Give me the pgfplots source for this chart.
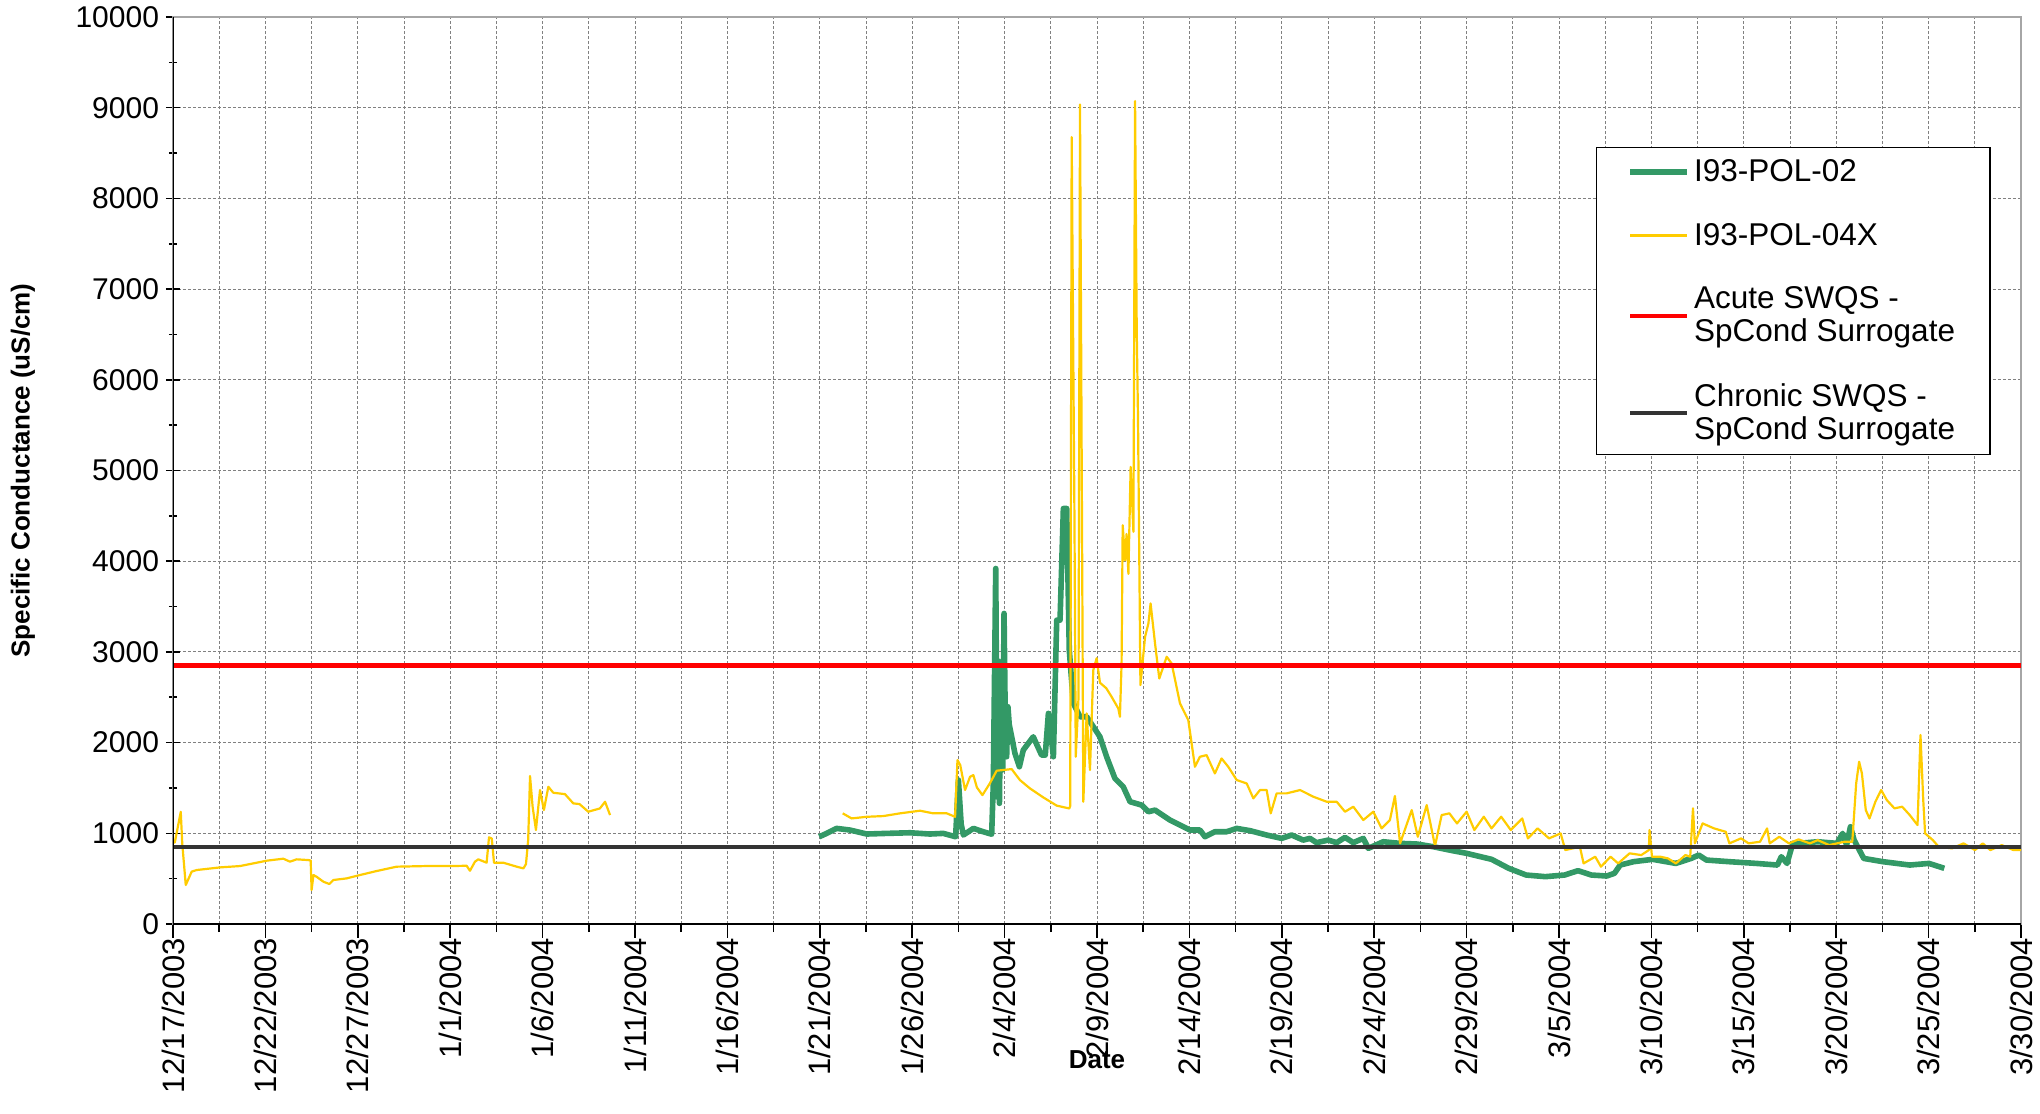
\documentclass[border=0pt]{standalone}
\usepackage{pgfplots}
\pgfplotsset{compat=1.18}
\usepackage{fontspec}
\setmainfont{Liberation Sans}

\definecolor{polgreen}{HTML}{339966}
\definecolor{polyellow}{HTML}{FFCC00}
\definecolor{chronicgray}{HTML}{333333}

\begin{document}
\begin{tikzpicture}
\begin{axis}[
    scale only axis,
    width=924bp, height=453.5bp,
    xmin=0, xmax=100, ymin=0, ymax=10000,
    xtick={0,5,...,100},
    xticklabels={12/17/2003,12/22/2003,12/27/2003,1/1/2004,1/6/2004,1/11/2004,1/16/2004,1/21/2004,1/26/2004,2/4/2004,2/9/2004,2/14/2004,2/19/2004,2/24/2004,2/29/2004,3/5/2004,3/10/2004,3/15/2004,3/20/2004,3/25/2004,3/30/2004},
    minor x tick num=1,
    ytick={0,1000,...,10000},
    minor y tick num=1,
    xtick pos=bottom, ytick pos=left,
    xtick align=outside, ytick align=center,
    major tick length=7bp, minor tick length=4bp,
    tick style={black, line width=0.8bp},
    xticklabel style={rotate=90, anchor=east, font=\fontsize{15.5bp}{18bp}\selectfont},
    xticklabel shift=-3.5bp,
    yticklabel style={font=\fontsize{15bp}{18bp}\selectfont},
    /pgf/number format/assume math mode=true,
    /pgf/number format/set thousands separator={},
    scaled y ticks=false,
    xmajorgrids, xminorgrids, ymajorgrids,
    major grid style={black!50, dash pattern=on 1.5bp off 1bp, line width=0.5bp},
    minor grid style={black!50, dash pattern=on 1.5bp off 1bp, line width=0.5bp},
    axis line style={draw=gray!70, line width=1bp},
    xlabel={\textbf{Date}},
    xlabel style={at={(axis description cs:0.5,0)}, anchor=center, yshift=-68bp, font=\fontsize{13bp}{15bp}\selectfont},
    ylabel={\textbf{Specific Conductance (uS/cm)}},
    ylabel style={at={(axis description cs:-0.0812,0.5)}, anchor=center, font=\fontsize{13bp}{15bp}\selectfont},
    unbounded coords=jump,
    legend cell align=left,
    legend image code/.code={\draw[#1] (0bp,0bp) -- (28.5bp,0bp);},
    legend style={at={(rel axis cs:0.770,0.857)}, anchor=north west,
        draw=black, line width=0.6bp, fill=white,
        font=\fontsize{15.75bp}{16.5bp}\selectfont,
        inner xsep=15.5bp, inner ysep=4bp, row sep=15.4bp,
        cells={align=left}},
]

% I93-POL-02
\addplot[polgreen, line width=2.8bp, line join=round] coordinates {
(34.97,962) (35.37,999) (35.91,1054) (36.63,1036) (37.54,992) (38.62,999)
(39.88,1006) (40.96,992) (41.68,999) (42.35,962) (42.5,1587) (42.65,1100)
(42.77,981) (43.31,1054) (43.85,1017) (44.3,990) (44.39,1550) (44.52,3920)
(44.6,1400) (44.66,2900) (44.72,1330) (44.79,2652) (44.9,1700) (44.97,3424)
(45.05,2000) (45.11,1844) (45.18,2395) (45.25,2200) (45.56,1881) (45.8,1734)
(46.01,1917) (46.55,2064) (47.0,1862) (47.2,1862) (47.37,2322) (47.5,2100)
(47.64,1844) (47.82,3350) (48.0,3350) (48.18,4581) (48.36,4581) (48.5,3019)
(48.72,2432) (49.08,2285) (49.44,2285) (49.8,2175) (50.16,2064) (50.52,1844)
(50.97,1605) (51.42,1513) (51.79,1348) (52.42,1311) (52.78,1238) (53.14,1256)
(53.95,1146) (54.67,1072) (55.03,1036) (55.57,1036) (55.84,962) (56.38,1017)
(57.01,1017) (57.56,1054) (58.28,1029) (59.18,981) (59.99,944) (60.53,981)
(61.16,925) (61.52,944) (61.88,897) (62.51,925) (62.97,897) (63.42,955)
(63.87,897) (64.41,944) (64.68,834) (65.49,907) (66.39,889) (67.3,882)
(68.2,852) (69.07,815) (70.0,779) (71.35,713) (72.28,614) (73.22,540)
(74.26,522) (75.3,540) (76.03,588) (76.75,540) (77.58,529) (78.0,559)
(78.31,650) (79.03,687) (80.07,713) (81.32,668) (82.15,723) (82.56,760)
(82.98,705) (84.22,687) (85.68,668) (86.82,650) (87.03,742) (87.34,668)
(87.65,889) (87.96,889) (89.0,907) (90.04,889) (90.35,999) (90.56,870)
(90.77,1072) (90.97,925) (91.49,723) (92.53,687) (93.98,650) (95.02,668)
(95.85,614)
};
\addlegendentry{I93-POL-02}

% I93-POL-04X
\addplot[polyellow, line width=1.1bp, line join=round] coordinates {
(0,896) (0.1,900) (0.42,1237) (0.5,890) (0.69,430) (1.01,577) (1.28,595)
(2.54,624) (3.63,639) (5.07,698) (5.97,720) (6.33,687) (6.69,713) (7.32,705)
(7.45,700) (7.5,375) (7.6,540) (7.77,521) (8.14,466) (8.46,441) (8.68,485)
(9.4,503) (10.12,540) (11.02,584) (12.1,632) (13.73,639) (14.99,639)
(15.89,642) (16.07,587) (16.34,687) (16.52,713) (16.97,676) (17.1,955)
(17.25,943) (17.37,676) (17.87,676) (18.6,632) (18.96,613) (19.1,660)
(19.22,926) (19.32,1631) (19.46,1293) (19.64,1036) (19.86,1477) (20.07,1256)
(20.31,1513) (20.58,1447) (21.21,1432) (21.66,1330) (22.0,1322) (22.47,1238)
(23.1,1274) (23.38,1348) (23.65,1201)
(30,nan)
(36.24,1220) (36.72,1164) (37.54,1182) (38.44,1190) (39.34,1220) (40.42,1249)
(41.14,1220) (41.87,1220) (42.32,1182) (42.45,1807) (42.6,1752) (42.86,1477)
(43.13,1623) (43.31,1642) (43.5,1506) (43.8,1421) (44.2,1550) (44.57,1690)
(45.38,1708) (45.83,1587) (46.37,1495) (47.1,1395) (47.82,1305) (48.5,1274)
(48.55,1300) (48.63,8676) (48.78,4470) (48.85,1844) (49.0,2500) (49.08,9036)
(49.26,1348) (49.44,2322) (49.62,1697) (49.8,2800) (49.98,2930) (50.16,2660)
(50.5,2600) (50.79,2505) (51.15,2377) (51.24,2285) (51.33,2873) (51.39,4397)
(51.52,4010) (51.6,4300) (51.7,3860) (51.82,5040) (51.97,4324) (52.06,9073)
(52.15,6546) (52.22,5554) (52.35,2634) (52.6,3166) (52.78,3312) (52.9,3534)
(53.14,3093) (53.37,2707) (53.77,2946) (54.04,2872) (54.49,2432) (54.94,2248)
(55.3,1734) (55.57,1844) (55.93,1862) (56.38,1660) (56.74,1825) (57.1,1734)
(57.56,1587) (58.1,1550) (58.46,1385) (58.82,1477) (59.18,1477) (59.4,1220)
(59.72,1440) (60.26,1440) (60.99,1477) (61.71,1403) (62.43,1348) (62.97,1348)
(63.42,1238) (63.87,1293) (64.41,1146) (64.95,1238) (65.4,1054) (65.85,1146)
(66.12,1411) (66.4,889) (67.03,1256) (67.36,962) (67.84,1311) (68.29,860)
(68.65,1201) (69.07,1220) (69.48,1109) (70.0,1238) (70.42,1036) (70.93,1183)
(71.35,1054) (71.87,1183) (72.39,1036) (73.01,1164) (73.32,944) (73.84,1054)
(74.46,944) (75.09,999) (75.34,815) (76.13,852) (76.33,668) (76.96,742)
(77.27,632) (77.79,742) (78.2,668) (78.82,779) (79.45,760) (79.86,815)
(79.9,1036) (80.03,742) (80.49,742) (80.9,723) (81.32,668) (81.84,760)
(82.1,742) (82.25,1275) (82.35,889) (82.77,1109) (83.39,1054) (84.02,1017)
(84.22,889) (84.85,944) (85.26,889) (85.88,907) (86.26,1054) (86.4,889)
(86.92,962) (87.44,889) (87.96,933) (88.58,889) (89.0,925) (89.62,870)
(90.45,907) (90.87,907) (91.08,1550) (91.24,1789) (91.39,1660) (91.6,1256)
(91.8,1164) (92.12,1348) (92.43,1477) (92.74,1366) (93.15,1275) (93.57,1293)
(93.98,1201) (94.4,1091) (94.56,2083) (94.71,1366) (94.81,999) (95.23,925)
(95.54,852) (96.27,834) (96.89,889) (97.51,815) (97.93,889) (98.34,815)
(98.96,870) (99.59,815) (100,815)
};
\addlegendentry{I93-POL-04X}

% standards
\addplot[red, line width=2.2bp] coordinates {(0,2850) (100,2850)};
\addlegendentry{Acute SWQS -\\SpCond Surrogate}
\addplot[chronicgray, line width=2.2bp] coordinates {(0,850) (100,850)};
\addlegendentry{Chronic SWQS -\\SpCond Surrogate}

\draw[black, line width=1.2bp] (rel axis cs:0,1) -- (rel axis cs:0,0) -- (rel axis cs:1,0);
\end{axis}
\pgfresetboundingbox
\path[use as bounding box] (-86.5bp,-95bp) rectangle (933.5bp,462bp);
\end{tikzpicture}
\end{document}
